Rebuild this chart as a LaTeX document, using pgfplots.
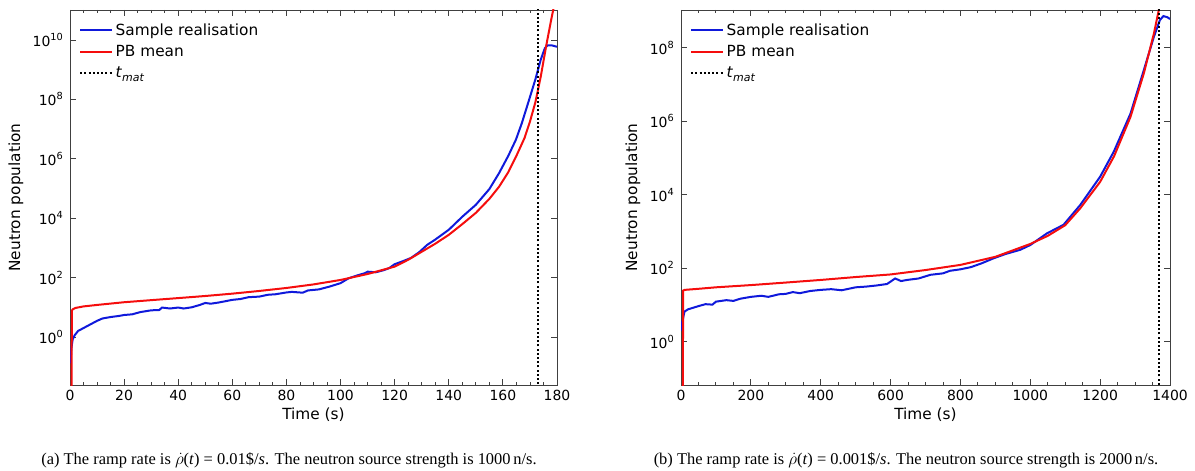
\documentclass[border=0pt]{standalone}
\usepackage{pgfplots}
\pgfplotsset{compat=1.18}
\usepackage{fontspec}
\setmainfont{DejaVu Sans}
\newfontfamily\capfont{Liberation Serif}
\definecolor{cblue}{rgb}{0.06,0.10,0.86}
\definecolor{cred}{rgb}{0.96,0.05,0.05}
\definecolor{framec}{rgb}{0.25,0.25,0.25}
\newcommand\ep[1]{10\raisebox{0.42em}{\fontsize{9.8}{10}\selectfont #1}}
\pgfplotsset{
  myax/.style={
    scale only axis, height=375bp, anchor=south west,
    axis line style={framec, line width=0.9bp},
    every tick/.style={framec, line width=0.9bp},
    major tick length=6bp, minor tick length=3.5bp,
    tick align=inside,
    yminorticks=false,
    minor x tick num=3,
    /pgf/number format/assume math mode=true,
    /pgf/number format/set thousands separator={},
    tick label style={font=\fontsize{14}{16}\selectfont},
    xticklabel style={anchor=center, yshift=-10bp},
    yticklabel style={anchor=east, inner sep=0pt, xshift=-7bp},
    label style={font=\fontsize{15.4}{18}\selectfont},
    xlabel style={at={(axis description cs:0.5,0)}, anchor=center, yshift=-30bp},
    legend style={at={(axis description cs:0,1)}, anchor=north west, draw=none, fill=none,
      font=\fontsize{15.4}{18}\selectfont, xshift=6bp, yshift=-9bp, row sep=3.5bp,
      nodes={inner sep=2.5bp}},
    legend cell align=left,
    legend image code/.code={\draw[##1] (0bp,0bp) -- (32bp,0bp);},
    xlabel={Time (s)}, ylabel={Neutron population},
  }
}
\begin{document}
\begin{tikzpicture}[x=1bp,y=1bp]
\path[use as bounding box] (0bp,0bp) rectangle (1195bp,471bp);
\begin{semilogyaxis}[myax, at={(70bp,86bp)}, width=487bp,
  xmin=0, xmax=180, ymin=0.0242, ymax=1.02e11,
  xtick={0,20,...,180},
  ytick={1,1e2,1e4,1e6,1e8,1e10},
  yticklabels={\ep{0},\ep{2},\ep{4},\ep{6},\ep{8},\ep{10}},
  ylabel style={at={(axis description cs:0,0.5)}, anchor=center, yshift=54bp},
]
\addplot[cblue, line width=2bp] coordinates {
(0.2,0.13) (0.5,0.4) (1,0.85) (1.8,1.17) (3,1.6) (5,2.0) (8,2.8) (10,3.5) (12,4.2)
(15,4.7) (18,5.1) (20,5.5) (23,5.8) (26,6.9) (30,7.9) (33,8.1) (34,9.8) (37,9.1)
(40,9.8) (42,9.1) (45,10) (48,12) (50,14) (52,13.2) (55,14.5) (60,17.8) (63,19)
(66,21.9) (70,22.9) (73,26.3) (76,27.5) (80,31.6) (82,33) (86,31) (88,37) (92,40)
(96,50) (100,65) (103,95) (106,117) (109,141) (110,158) (113,151) (116,178) (118,209)
(120,282) (123,355) (126,457) (129,708) (132,1259) (135,1905) (140,4074) (145,1.12e4)
(150,2.82e4) (155,9.55e4) (158.6,3.31e5) (162,1.26e6) (164.8,4.37e6) (167,1.58e7)
(169.7,9.77e7) (172,4.68e8) (174,2.19e9) (175.5,5.25e9) (176.5,6.6e9) (178,6.6e9) (180,5.9e9)
};
\addlegendentry{Sample realisation}
\addplot[cred, line width=2bp] coordinates {
(0.5,1e-3) (0.7,7.9) (1,8.5) (2,9.5) (5,10.7) (10,12.0) (20,14.8) (30,17.4) (40,20.4)
(50,24.0) (60,28.8) (70,35.5) (80,44.7) (90,58.9) (100,83.2) (110,132) (120,234)
(125,398) (130,741) (135,1380) (140,2750) (145,6310) (150,1.51e4) (155,4.47e4)
(158.6,1.15e5) (162,3.55e5) (165,1.26e6) (168,5.01e6) (170,1.78e7) (172,7.94e7)
(174,5.89e8) (176,6.31e9) (178,5.62e10) (179.5,2.5e11)
};
\addlegendentry{PB mean}
\addplot[black, line width=2bp, dash pattern=on 2bp off 2.2bp] coordinates {(172.8,1e-3) (172.8,1e12)};
\addlegendentry{\textit{t}\raisebox{-0.25em}{\fontsize{11}{12}\selectfont\textit{mat}}}
\end{semilogyaxis}

\begin{semilogyaxis}[myax, at={(681bp,86bp)}, width=489bp,
  xmin=0, xmax=1400, ymin=0.0664, ymax=1.06e9,
  xtick={0,200,...,1400},
  ytick={1,1e2,1e4,1e6,1e8},
  yticklabels={\ep{0},\ep{2},\ep{4},\ep{6},\ep{8}},
  ylabel style={at={(axis description cs:0,0.5)}, anchor=center, yshift=48bp},
]
\addplot[cblue, line width=2bp] coordinates {
(1,2) (3,3.2) (10,6.6) (20,7.6) (50,9.3) (70,10.5) (90,10.2) (100,12.3) (130,13.5)
(150,12.9) (170,14.8) (200,16.6) (230,17.8) (250,16.6) (280,19.5) (300,20) (320,22.4)
(340,20.9) (370,24) (400,25.7) (430,26.9) (460,25.1) (500,30.2) (530,31.6) (560,33.9)
(590,37.2) (613,52.5) (630,44.7) (647,47.9) (680,52.5) (714,66.1) (750,72.4) (770,85)
(800,93.3) (830,107) (860,135) (895,186) (930,245) (971,316) (1000,427) (1048,891)
(1095,1514) (1143,5248) (1200,3.09e4) (1239,1.48e5) (1287,1.62e6) (1325,2.45e7)
(1354,2.0e8) (1371,5.62e8) (1381,7.24e8) (1392,6.76e8) (1400,6.03e8)
};
\addlegendentry{Sample realisation}
\addplot[cred, line width=2bp] coordinates {
(5,1e-3) (6,24.5) (10,25.7) (50,27.5) (100,30.2) (200,34.7) (300,40.7) (400,47.9)
(500,57.5) (600,67.6) (700,89.1) (800,123) (900,204) (1000,457) (1050,759) (1100,1479)
(1143,4266) (1200,2.24e4) (1240,1.12e5) (1287,1.32e6) (1325,2.0e7) (1354,2.45e8)
(1368,1.07e9) (1380,4e9)
};
\addlegendentry{PB mean}
\addplot[black, line width=2bp, dash pattern=on 2bp off 2.2bp] coordinates {(1369,1e-3) (1369,1e10)};
\addlegendentry{\textit{t}\raisebox{-0.25em}{\fontsize{11}{12}\selectfont\textit{mat}}}
\end{semilogyaxis}

\node[font=\capfont\fontsize{16.5}{18}\selectfont] at (289bp,11bp) {(a) The ramp rate is $\dot{\rho}$(\textit{t}) = 0.01\$/\textit{s}. The neutron source strength is 1000\,n/s.};
\node[font=\capfont\fontsize{16.5}{18}\selectfont] at (906bp,11bp) {(b) The ramp rate is $\dot{\rho}$(\textit{t}) = 0.001\$/\textit{s}. The neutron source strength is 2000\,n/s.};
\end{tikzpicture}
\end{document}
